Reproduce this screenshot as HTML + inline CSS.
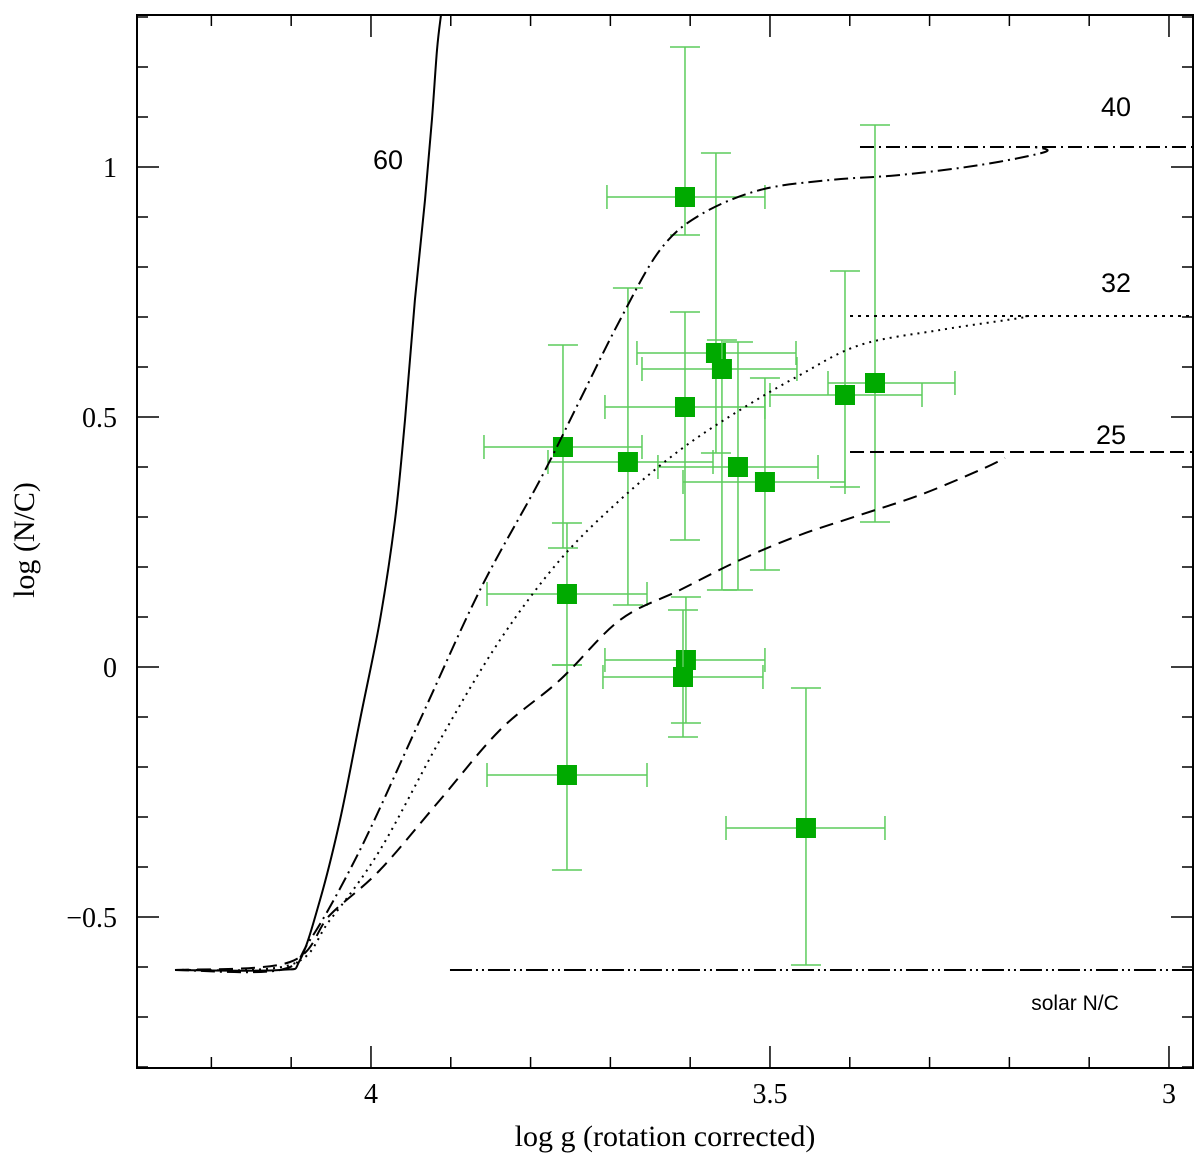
<!DOCTYPE html>
<html><head><meta charset="utf-8"><style>
html,body{margin:0;padding:0;background:#fff;}
svg{display:block;font-family:"Liberation Serif",serif;}
</style></head><body>
<svg id="chart" width="1200" height="1161" viewBox="0 0 1200 1161" xmlns="http://www.w3.org/2000/svg"></svg>
<script>
// ---- data ----
const xTicks = [4, 3.5, 3];
const xTickLabels = ["4", "3.5", "3"];
const yTicks = [-0.5, 0, 0.5, 1];
const yTickLabels = ["\u22120.5", "0", "0.5", "1"];
const obsG = [3.6065,3.5677,3.5602,3.6065,3.406,3.3684,3.7594,3.678,3.5401,3.5063,3.7544,3.6053,3.609,3.7544,3.4549];
const obsGlo = [3.7043,3.6667,3.6604,3.7068,3.5,3.4273,3.8584,3.7782,3.6404,3.609,3.8546,3.7068,3.7093,3.8546,3.5551];
const obsGhi = [3.5063,3.4674,3.4662,3.5063,3.3095,3.2682,3.6604,3.5714,3.4398,3.406,3.6541,3.5063,3.5088,3.6541,3.3559];
const obsNC = [0.94,0.628,0.596,0.52,0.544,0.568,0.44,0.41,0.40,0.37,0.146,0.014,-0.02,-0.216,-0.322];
const obsNChi = [1.24,1.028,0.654,0.71,0.792,1.084,0.644,0.758,0.65,0.578,0.288,0.14,0.114,0.004,-0.042];
const obsNClo = [0.864,0.428,0.154,0.254,0.36,0.29,0.238,0.124,0.154,0.194,0.004,-0.112,-0.14,-0.406,-0.596];
const m60G = [4.2456,4.114,4.089,4.0639,4.0388,4.0138,3.9887,3.9699,3.9574,3.9449,3.9323,3.9236,3.9173,3.9123];
const m60V = [-0.606,-0.606,-0.586,-0.466,-0.306,-0.106,0.094,0.294,0.494,0.734,0.934,1.094,1.234,1.304];
const m40G = [4.2456,4.114,4.0764,4.0138,3.9386,3.8634,3.7882,3.7381,3.688,3.6378,3.5877,3.5125,3.4248,3.3371,3.2368,3.1554,3.1679];
const m40V = [-0.606,-0.606,-0.546,-0.366,-0.106,0.154,0.374,0.534,0.694,0.834,0.904,0.954,0.974,0.984,1.004,1.03,1.04];
const m32G = [4.2456,4.1015,4.0514,3.9887,3.9135,3.8383,3.7632,3.688,3.6128,3.5376,3.4624,3.3872,3.287,3.1867,3.18];
const m32V = [-0.606,-0.596,-0.506,-0.366,-0.146,0.054,0.214,0.334,0.434,0.514,0.584,0.644,0.674,0.698,0.702];
const m25G = [4.2456,4.1015,4.0514,3.9887,3.9135,3.8383,3.7632,3.688,3.6128,3.5376,3.4624,3.3872,3.312,3.2368,3.2055];
const m25V = [-0.606,-0.59,-0.496,-0.406,-0.266,-0.126,-0.026,0.094,0.154,0.214,0.264,0.304,0.344,0.394,0.418];
const plateauStart = [3.3872, 3.3997, 3.3997];
const plateauV = [1.04, 0.702, 0.43];
const solarNC = -0.606;
const solarStart = 3.901;

// ---- axes ----
const L=137,R=1193,T=15,B=1068;
const gMax=4.2932,gMin=2.9699,vMin=-0.802,vMax=1.304;
const X=g=>L+(gMax-g)/(gMax-gMin)*(R-L);
const Y=v=>B-(v-vMin)/(vMax-vMin)*(B-T);
const svg=document.getElementById('chart');
const NS='http://www.w3.org/2000/svg';
function mk(tag,attrs,parent){const e=document.createElementNS(NS,tag);for(const k in attrs)e.setAttribute(k,attrs[k]);(parent||svg).appendChild(e);return e;}

const defs=mk('defs',{});const cp=mk('clipPath',{id:'clip'},defs);mk('rect',{x:L,y:T,width:R-L,height:B-T},cp);

// error bars and points
const gObs=mk('g',{});


for(let i=0;i<obsG.length;i++){
  const gg=mk('g',{},gObs);
  
  
  const cx=X(obsG[i]),cy=Y(obsNC[i]);
  const st={stroke:'#5ccc5c','stroke-width':1.5,fill:'none'};
  mk('line',Object.assign({x1:X(obsGlo[i]),x2:X(obsGhi[i]),y1:cy,y2:cy},st),gg);
  mk('line',Object.assign({x1:X(obsGlo[i]),x2:X(obsGlo[i]),y1:cy-12,y2:cy+12},st),gg);
  mk('line',Object.assign({x1:X(obsGhi[i]),x2:X(obsGhi[i]),y1:cy-12,y2:cy+12},st),gg);
  mk('line',Object.assign({x1:cx,x2:cx,y1:Y(obsNChi[i]),y2:Y(obsNClo[i])},st),gg);
  mk('line',Object.assign({x1:cx-15,x2:cx+15,y1:Y(obsNChi[i]),y2:Y(obsNChi[i])},st),gg);
  mk('line',Object.assign({x1:cx-15,x2:cx+15,y1:Y(obsNClo[i]),y2:Y(obsNClo[i])},st),gg);
  mk('rect',{x:cx-10,y:cy-10,width:20,height:20,fill:'#00aa00'},gg);
}

// smooth path (Catmull-Rom)
function smooth(G,V){
  const P=G.map((g,i)=>[X(g),Y(V[i])]);
  let d='M'+P[0][0].toFixed(1)+','+P[0][1].toFixed(1);
  for(let i=0;i<P.length-1;i++){
    const p0=P[Math.max(0,i-1)],p1=P[i],p2=P[i+1],p3=P[Math.min(P.length-1,i+2)];
    const c1=[p1[0]+(p2[0]-p0[0])/6,p1[1]+(p2[1]-p0[1])/6];
    const c2=[p2[0]-(p3[0]-p1[0])/6,p2[1]-(p3[1]-p1[1])/6];
    d+='C'+c1[0].toFixed(1)+','+c1[1].toFixed(1)+' '+c2[0].toFixed(1)+','+c2[1].toFixed(1)+' '+p2[0].toFixed(1)+','+p2[1].toFixed(1);
  }
  return d;
}
function curve(G,V,dash,name){
  const p=mk('path',{d:smooth(G,V),fill:'none',stroke:'#000','stroke-width':2,'stroke-dasharray':dash,'clip-path':'url(#clip)'});
  
  
}
curve(m60G,m60V,'none','track-60msun');
curve(m40G,m40V,'14,5,2,5','track-40msun');
curve(m32G,m32V,'2,5','track-32msun');
curve(m25G,m25V,'14,8','track-25msun');
const pd=['14,5,2,5','3,5','14,6'];
const pn=['plateau-40','plateau-32','plateau-25'];
for(let i=0;i<3;i++){
  const l=mk('line',{x1:X(plateauStart[i]),x2:R,y1:Y(plateauV[i]),y2:Y(plateauV[i]),stroke:'#000','stroke-width':2,'stroke-dasharray':pd[i]});
  
  
}
const sl=mk('line',{x1:X(solarStart),x2:R,y1:Y(solarNC),y2:Y(solarNC),stroke:'#000','stroke-width':2,'stroke-dasharray':'22,4,2,4,2,4'});



const fr=mk('rect',{x:L,y:T,width:R-L,height:B-T,fill:'none',stroke:'#000','stroke-width':2});



const tk=mk('g',{stroke:'#000','stroke-width':1.5});


for(let k=30;k<=42;k++){const g=k/10;const x=X(g);if(x<L||x>R)continue;const maj=(k%5===0);const len=maj?22:11;
  mk('line',{x1:x,x2:x,y1:B,y2:B-len},tk);mk('line',{x1:x,x2:x,y1:T,y2:T+len},tk);}
for(let k=-8;k<=13;k++){const v=k/10;const y=Y(v);if(y<T||y>B)continue;const maj=(k%5===0);const len=maj?22:11;
  mk('line',{x1:L,x2:L+len,y1:y,y2:y},tk);mk('line',{x1:R,x2:R-len,y1:y,y2:y},tk);}

xTicks.forEach((g,i)=>{const t=mk('text',{x:X(g),y:1103,'text-anchor':'middle','font-size':28});t.textContent=xTickLabels[i];
  
  });
yTicks.forEach((v,i)=>{const t=mk('text',{x:117,y:Y(v)+10,'text-anchor':'end','font-size':28});t.textContent=yTickLabels[i];
  
  });

function txt(s,x,y,size,name,extra){const t=mk('text',Object.assign({x:x,y:y,'font-size':size},extra||{}));t.textContent=s;
  
  return t;}
const sans={'text-anchor':'middle','font-family':'"Liberation Sans",sans-serif'};
txt('log g (rotation corrected)',665,1146,30,'x-axis-title',{'text-anchor':'middle'});
txt('log (N/C)',0,0,30,'y-axis-title',{'text-anchor':'middle',transform:'translate(34,540) rotate(-90)'});
txt('60',388,169,27,'label-60',sans);
txt('40',1116,116,27,'label-40',sans);
txt('32',1116,292,27,'label-32',sans);
txt('25',1111,444,27,'label-25',sans);
txt('solar N/C',1075,1010,21,'solar-nc-label',sans);
</script>
</body></html>
